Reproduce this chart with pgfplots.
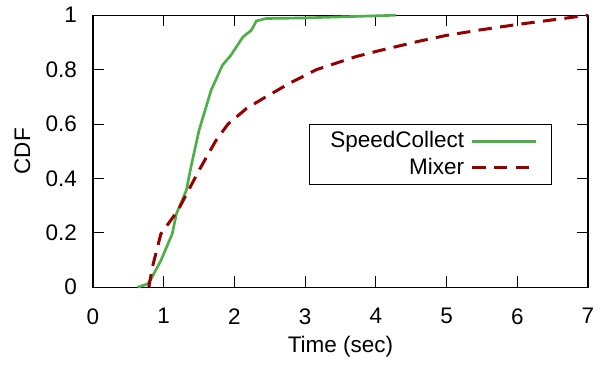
\documentclass[border=0pt]{standalone}
\usepackage{fontspec}
\setmainfont{Liberation Sans}
\usepackage{pgfplots}
\pgfplotsset{compat=1.18}
\definecolor{sgreen}{RGB}{77,175,74}
\definecolor{mred}{RGB}{150,0,0}
\begin{document}
\fontsize{13.5}{16}\selectfont
\begin{tikzpicture}
\begin{axis}[
  scale only axis, width=297pt, height=163.2pt,
  xmin=0, xmax=7, ymin=0, ymax=1,
  xtick={0,1,2,3,4,5,6,7},
  ytick={0,0.2,0.4,0.6,0.8,1},
  yticklabels={0,0.2,0.4,0.6,0.8,1},
  tick align=inside, major tick length=6.6pt,
  tick style={black, line width=0.6pt},
  axis line style={line width=0.8pt},
  /pgf/number format/assume math mode=true,
  ticklabel style={font=\fontsize{13.5}{16}\selectfont},
  xticklabel style={yshift=-8pt},
  yticklabel style={xshift=-5pt},
  label style={font=\fontsize{13.5}{16}\selectfont},
  xlabel={Time (sec)}, ylabel={CDF},
  xlabel style={yshift=2pt},
  clip=false,
  legend cell align=right,
  legend plot pos=right,
  legend image code/.code={\draw[#1] (0pt,0pt) -- (38pt,0pt);},
  legend style={at={(rel axis cs:0.927,0.599)}, anchor=north east,
    draw=black, line width=0.6pt, inner xsep=8.5pt, inner ysep=2pt,
    font=\fontsize{13.5}{16}\selectfont, row sep=0pt,
    nodes={inner xsep=4pt, inner ysep=2pt}},
]
\addplot[sgreen, line width=1.6pt] coordinates {
(0.63,0) (0.77,0.012) (0.82,0.03) (0.96,0.098) (1.12,0.196) (1.18,0.27)
(1.32,0.356) (1.39,0.448) (1.50,0.577) (1.67,0.724) (1.83,0.816) (1.95,0.853)
(2.12,0.92) (2.24,0.945) (2.31,0.979) (2.45,0.988) (2.97,0.99) (4.28,1.0)
};
\addlegendentry{SpeedCollect}
\addplot[mred, line width=1.8pt, dash pattern=on 8pt off 5pt] coordinates {
(0.79,0) (0.84,0.074) (0.96,0.196) (1.20,0.282) (1.50,0.43) (1.74,0.54)
(1.91,0.60) (2.17,0.657) (2.40,0.693) (2.78,0.75) (3.16,0.80) (3.72,0.848)
(4.05,0.870) (4.62,0.905) (5.0,0.926) (5.5,0.947) (6.0,0.966) (6.5,0.983) (7.0,1.0)
};
\addlegendentry{Mixer}
\coordinate (O) at (rel axis cs:0,0);
\end{axis}
\path (O) ++(-55.8pt,-43.8pt) rectangle ++(364.8pt,216pt);
\end{tikzpicture}
\end{document}
